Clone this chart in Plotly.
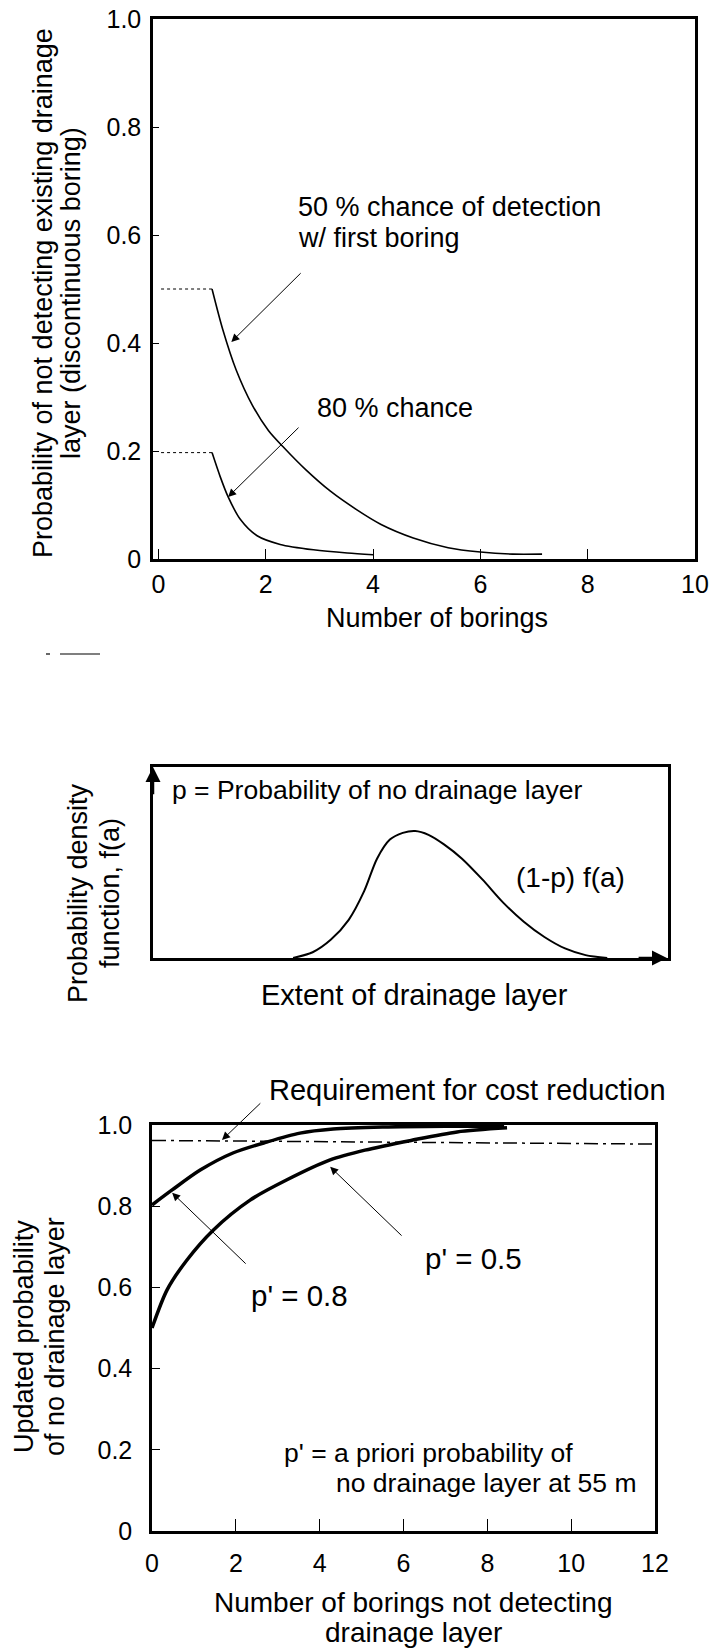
import plotly.graph_objects as go

W, H = 715, 1651
FONT = "Liberation Sans, Arial, Helvetica, sans-serif"

# ---------- Panel 1: probability of not detecting drainage layer ----------
borings_50 = [1.0, 1.2, 1.45, 1.75, 2.05, 2.35, 2.75, 3.2, 3.7, 4.15, 4.75, 5.4, 6.0, 6.6, 7.15]
prob_50 = [0.50, 0.425, 0.35, 0.285, 0.238, 0.205, 0.165, 0.126, 0.091, 0.064, 0.039, 0.021, 0.013, 0.009, 0.009]
borings_80 = [1.0, 1.15, 1.30, 1.53, 1.84, 2.27, 2.89, 3.52, 4.0]
prob_80 = [0.197, 0.153, 0.115, 0.073, 0.043, 0.027, 0.017, 0.011, 0.008]
first_boring_x = [0.05, 1.0]
top_ticks_x = [0, 2, 4, 6, 8, 10]
top_ticks_y = [0, 0.2, 0.4, 0.6, 0.8, 1.0]
top_ticktext_y = ["0", "0.2", "0.4", "0.6", "0.8", "1.0"]

# ---------- Panel 2: probability density of drainage layer extent ----------
extent = [2.72, 3.1, 3.45, 3.8, 4.1, 4.35, 4.6, 4.85, 5.09, 5.35, 5.65, 6.0, 6.4, 6.8, 7.2, 7.6, 8.0, 8.4, 8.82]
density = [0.0, 0.03, 0.095, 0.2, 0.35, 0.52, 0.62, 0.655, 0.665, 0.645, 0.595, 0.52, 0.41, 0.29, 0.19, 0.11,
           0.05, 0.015, 0.0]

# ---------- Panel 3: updated probability of no drainage layer ----------
n_08 = [0.0, 0.48, 1.15, 1.93, 2.74, 3.53, 4.32, 5.5, 7.0, 8.4]
upd_08 = [0.803, 0.840, 0.889, 0.931, 0.958, 0.980, 0.990, 0.995, 0.997, 0.997]
n_05 = [0.0, 0.36, 0.83, 1.46, 2.34, 3.22, 4.25, 5.08, 6.18, 7.28, 8.47]
upd_05 = [0.50, 0.594, 0.667, 0.741, 0.815, 0.865, 0.914, 0.938, 0.962, 0.983, 0.993]
req_x = [0, 12]
req_y = [0.962, 0.953]
bot_ticks_x = [0, 2, 4, 6, 8, 10, 12]
bot_ticks_y = [0, 0.2, 0.4, 0.6, 0.8, 1.0]
bot_ticktext_y = ["0", "0.2", "0.4", "0.6", "0.8", "1.0"]


def dom_x(a, b):
    return [a / W, b / W]


def dom_y(top, bottom):
    return [1 - bottom / H, 1 - top / H]


def px(x):
    return x / W


def py(y):
    return 1 - y / H


fig = go.Figure()
blk = "black"

# Panel 1 traces
fig.add_trace(go.Scatter(x=borings_50, y=prob_50, mode="lines",
                         line=dict(color=blk, width=1.6, shape="spline", smoothing=0.8), xaxis="x", yaxis="y"))
fig.add_trace(go.Scatter(x=borings_80, y=prob_80, mode="lines",
                         line=dict(color=blk, width=1.6, shape="spline", smoothing=0.8), xaxis="x", yaxis="y"))
fig.add_trace(go.Scatter(x=first_boring_x, y=[prob_50[0]] * 2, mode="lines",
                         line=dict(color=blk, width=1, dash="dot"), xaxis="x", yaxis="y"))
fig.add_trace(go.Scatter(x=first_boring_x, y=[prob_80[0]] * 2, mode="lines",
                         line=dict(color=blk, width=1, dash="dot"), xaxis="x", yaxis="y"))

# Panel 2 trace
fig.add_trace(go.Scatter(x=extent, y=density, mode="lines",
                         line=dict(color=blk, width=2, shape="spline", smoothing=0.8), xaxis="x2", yaxis="y2"))

# Panel 3 traces
fig.add_trace(go.Scatter(x=req_x, y=req_y, mode="lines",
                         line=dict(color=blk, width=1.5, dash="14px,5px,3px,5px"), xaxis="x3", yaxis="y3"))
fig.add_trace(go.Scatter(x=n_08, y=upd_08, mode="lines",
                         line=dict(color=blk, width=3.5, shape="spline", smoothing=0.8), xaxis="x3", yaxis="y3"))
fig.add_trace(go.Scatter(x=n_05, y=upd_05, mode="lines",
                         line=dict(color=blk, width=3.5, shape="spline", smoothing=0.8), xaxis="x3", yaxis="y3"))

tickfont = dict(family=FONT, size=25, color=blk)
common = dict(showgrid=False, zeroline=False, showline=True, linecolor=blk, linewidth=2.5, mirror=True,
              ticks="inside", tickcolor=blk, tickfont=tickfont, automargin=False)
plain = dict(showticklabels=False, showgrid=False, zeroline=False, showline=True, linecolor=blk,
             linewidth=2.5, mirror=True, ticks="", automargin=False)

fig.update_layout(
    width=W, height=H, margin=dict(l=0, r=0, t=0, b=0, autoexpand=False),
    paper_bgcolor="white", plot_bgcolor="white", showlegend=False,
    xaxis=dict(domain=dom_x(153, 695), range=[-0.1, 10], tickvals=top_ticks_x, ticklen=10, tickwidth=1,
               ticklabelstandoff=1, anchor="y", **common),
    yaxis=dict(domain=dom_y(19, 559), range=[0, 1], tickvals=top_ticks_y, ticktext=top_ticktext_y,
               ticklen=6, tickwidth=1, ticklabelstandoff=4, anchor="x", **common),
    xaxis2=dict(domain=dom_x(153, 668), range=[0, 10], anchor="y2", **plain),
    yaxis2=dict(domain=dom_y(767, 958), range=[0, 1], anchor="x2", **plain),
    xaxis3=dict(domain=dom_x(152, 655), range=[0, 12], tickvals=bot_ticks_x, ticklen=12, tickwidth=1,
                ticklabelstandoff=8, anchor="y3", **common),
    yaxis3=dict(domain=dom_y(1125, 1531), range=[0, 1], tickvals=bot_ticks_y, ticktext=bot_ticktext_y,
                ticklen=8, tickwidth=1, ticklabelstandoff=12, anchor="x3", **common),
)

ann = []


def text(x, y, t, xref, yref, xanchor="left", size=25, angle=0):
    ann.append(dict(x=x, y=y, xref=xref, yref=yref, text=t, showarrow=False, xanchor=xanchor,
                    yanchor="middle", textangle=angle, borderpad=0,
                    font=dict(family=FONT, size=size, color=blk)))


def arrow(hx, hy, tx, ty, xr, yr, width=1, size=1.6, head=2):
    ann.append(dict(x=hx, y=hy, ax=tx, ay=ty, xref=xr, yref=yr, axref=xr, ayref=yr, text="",
                    showarrow=True, arrowhead=head, arrowsize=size, arrowwidth=width, arrowcolor=blk,
                    standoff=0, startstandoff=0))


# Panel 1 texts
text(2.59, 0.652, "50 % chance of detection", "x", "y", size=27)
text(2.59, 0.595, "w/ first boring", "x", "y", size=27)
text(2.94, 0.280, "80 % chance", "x", "y", size=27)
arrow(1.36, 0.402, 2.68, 0.532, "x", "y")
arrow(1.30, 0.115, 2.64, 0.246, "x", "y")
text(px(43), py(293), "Probability of not detecting existing drainage", "paper", "paper", "center", 27, -90)
text(px(71), py(293), "layer (discontinuous boring)", "paper", "paper", "center", 27, -90)
text(px(437), py(618), "Number of borings", "paper", "paper", "center", 27)

# Panel 2 texts
text(0.35, 0.88, "p = Probability of no drainage layer", "x2", "y2", size=26.5)
text(7.03, 0.42, "(1-p) f(a)", "x2", "y2", size=28)
arrow(0.0, 1.0, 0.0, 0.85, "x2", "y2", width=2.5, size=1.2)
arrow(9.98, 0.0, 9.4, 0.0, "x2", "y2", width=2.5, size=1.2)
text(px(78), py(893), "Probability density", "paper", "paper", "center", 27, -90)
text(px(110), py(893), "function, f(a)", "paper", "paper", "center", 27, -90)
text(px(414), py(995), "Extent of drainage layer", "paper", "paper", "center", 29)

# Panel 3 texts
text(px(268), py(1090), "Requirement for cost reduction", "paper", "paper", size=29)
arrow(1.67, 0.963, 2.62, 1.057, "x3", "y3")
text(3.53, 0.581, "p' = 0.8", "x3", "y3", "center", 29.5)
arrow(0.48, 0.833, 2.27, 0.655, "x3", "y3")
text(7.66, 0.672, "p' = 0.5", "x3", "y3", "center", 29.5)
arrow(4.25, 0.897, 5.99, 0.724, "x3", "y3")
text(3.13, 0.192, "p' = a priori probability of", "x3", "y3", size=26.5)
text(4.37, 0.118, "no drainage layer at 55 m", "x3", "y3", size=26.5)
text(px(24), py(1337), "Updated probability", "paper", "paper", "center", 27, -90)
text(px(55), py(1337), "of no drainage layer", "paper", "paper", "center", 27, -90)
text(px(413), py(1602), "Number of borings not detecting", "paper", "paper", "center", 28)
text(px(413), py(1632), "drainage layer", "paper", "paper", "center", 28)

fig.update_layout(annotations=ann)

# small scanning mark between panels
fig.add_shape(type="line", xref="paper", yref="paper", x0=px(46), x1=px(50), y0=py(654), y1=py(654),
              line=dict(color=blk, width=1.2))
fig.add_shape(type="line", xref="paper", yref="paper", x0=px(60), x1=px(100), y0=py(654), y1=py(654),
              line=dict(color=blk, width=1.2))

fig.write_html(
    "out.html",
    config={"displayModeBar": False},
    post_script="document.body.style.margin='0';document.body.style.overflow='hidden';",
)
